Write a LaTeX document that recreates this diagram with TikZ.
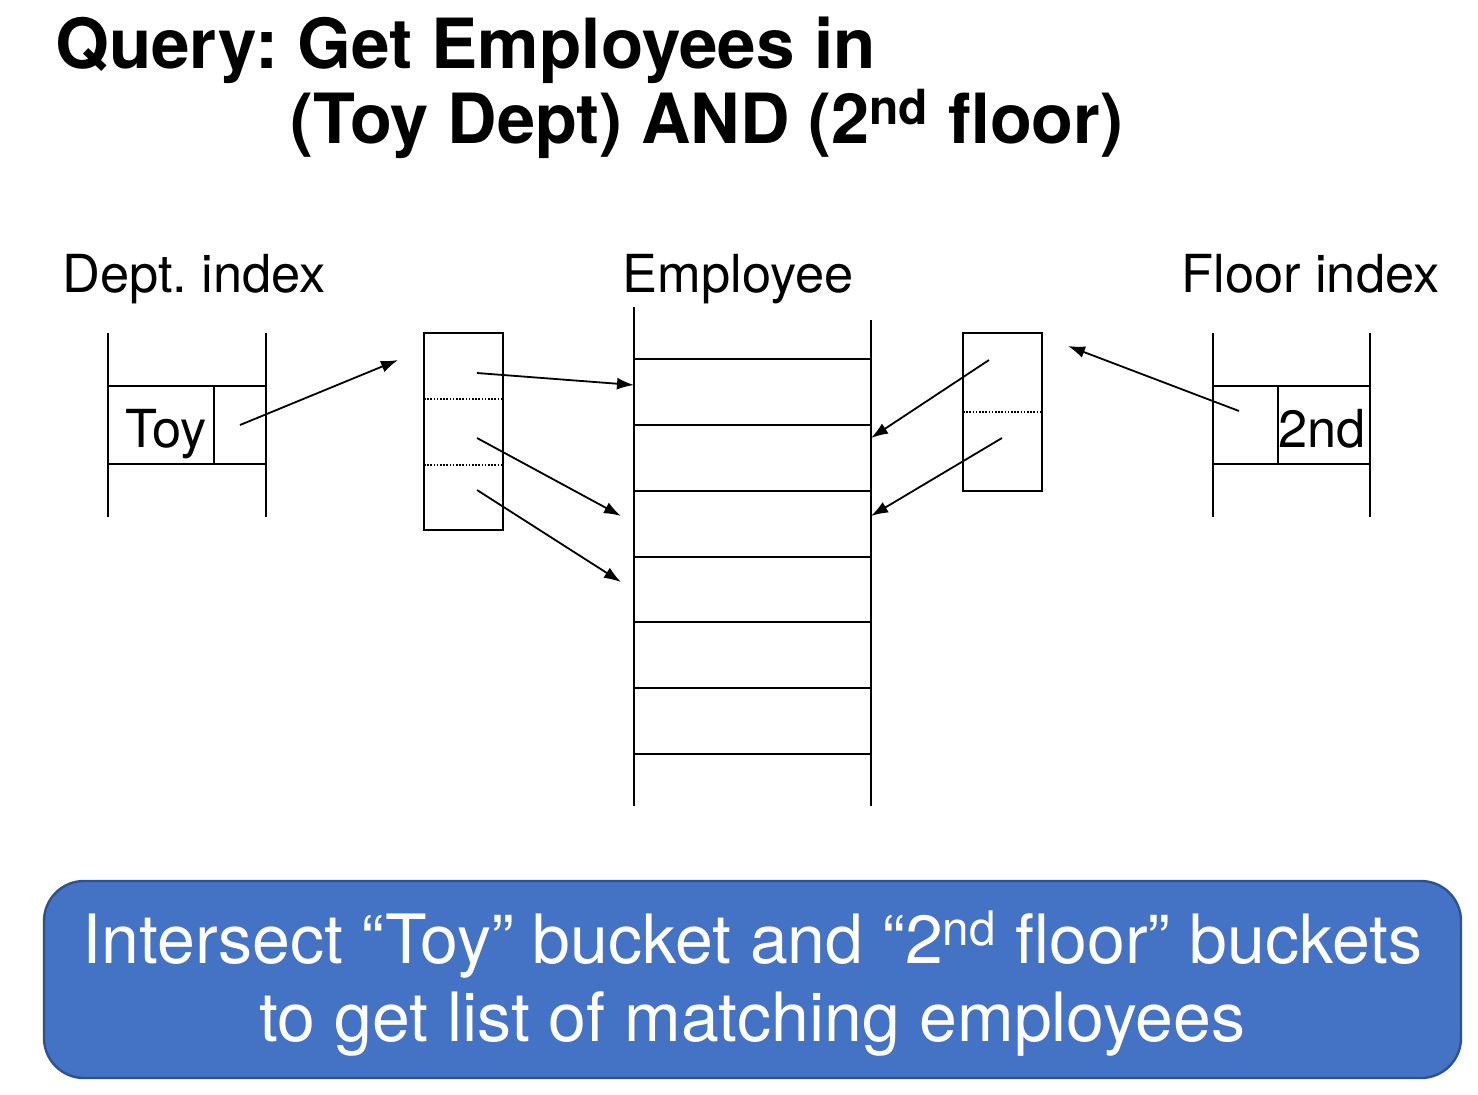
\documentclass[tikz,border=0pt]{standalone}
\usepackage{fontspec}
\setmainfont{TeX Gyre Heros}
\usetikzlibrary{positioning, arrows.meta}
\definecolor{noteblue}{RGB}{68,114,196}
\definecolor{noteedge}{RGB}{47,82,143}
\tikzset{
  ptr/.style={-{Latex[length=8.5pt,width=6pt]}, line width=0.9pt},
  rule/.style={line width=1pt},
  dotrule/.style={dash pattern=on 0.8pt off 0.8pt, line width=0.7pt},
  heading/.style={anchor=base west, inner sep=0pt, font=\fontsize{34.6}{40}\selectfont\bfseries},
  caption/.style={anchor=base west, inner sep=0pt, font=\fontsize{26.2}{30}\selectfont},
  notebox/.style={draw=noteedge, fill=noteblue, line width=1.2pt, rounded corners=20pt,
    inner sep=0pt, minimum width=708.5pt, minimum height=98.5pt},
  notetext/.style={align=center, text=white, inner sep=0pt, font=\fontsize{34}{39}\selectfont},
}
\frenchspacing

\begin{document}
\begin{tikzpicture}[x=0.5pt,y=-0.5pt]
\useasboundingbox (0,0) rectangle (1478,1094);

% title
\node[heading] (q1) at (55,68) {Query: Get Employees in};
\node[heading, xscale=0.99] (q2) at (290,143) {(Toy Dept) AND (2\textsuperscript{nd} floor)};

% captions
\node[caption] (deptlab) at (62,292) {Dept. index};
\node[caption] (emplab) at (622,292) {Employee};
\node[caption] (floorlab) at (1181,292) {Floor index};

% dept index
\draw[rule] (108,333) -- (108,517);
\draw[rule] (266,333) -- (266,517);
\draw[rule] (108,386) rectangle (266,464);
\draw[rule] (214,386) -- (214,464);
\node[caption] (toy) at (125,447) {Toy};
\coordinate (toyptr) at (240,425);

% toy bucket
\draw[rule] (424,333) rectangle (503,530);
\draw[dotrule] (424,399) -- (503,399);
\draw[dotrule] (424,465) -- (503,465);
\coordinate (tb) at (398,360);
\coordinate (tb0) at (477,373);
\coordinate (tb1) at (477,438);
\coordinate (tb2) at (477,490);

% employee file
\draw[rule] (634,307) -- (634,806);
\draw[rule] (871,320) -- (871,806);
\foreach \y in {359,425,491,557,622,688,754}
  \draw[rule] (634,\y) -- (871,\y);
\coordinate (e0) at (634,385);
\coordinate (e2) at (621,516);
\coordinate (e3) at (621,582);
\coordinate (e1r) at (871,438);
\coordinate (e2r) at (871,516);

% floor bucket
\draw[rule] (963,333) rectangle (1042,491);
\draw[dotrule] (963,412) -- (1042,412);
\coordinate (fb) at (1068,346);
\coordinate (fb0) at (989,360);
\coordinate (fb1) at (1002,438);

% floor index
\draw[rule] (1213,333) -- (1213,517);
\draw[rule] (1370,333) -- (1370,517);
\draw[rule] (1213,386) rectangle (1370,464);
\draw[rule] (1278,386) -- (1278,464);
\node[caption] (second) at (1278,447) {2nd};
\coordinate (floorptr) at (1239,411);

% pointers
\draw[ptr] (toyptr) -- (tb);
\draw[ptr] (tb0) -- (e0);
\draw[ptr] (tb1) -- (e2);
\draw[ptr] (tb2) -- (e3);
\draw[ptr] (floorptr) -- (fb);
\draw[ptr] (fb0) -- (e1r);
\draw[ptr] (fb1) -- (e2r);

% note
\node[notebox] (note) at (752.5,979.5) {};
\node[notetext] (notetxt) at (752.5,984) {Intersect “Toy” bucket and “2\textsuperscript{nd} floor” buckets\\to get list of matching employees};
\end{tikzpicture}
\end{document}
